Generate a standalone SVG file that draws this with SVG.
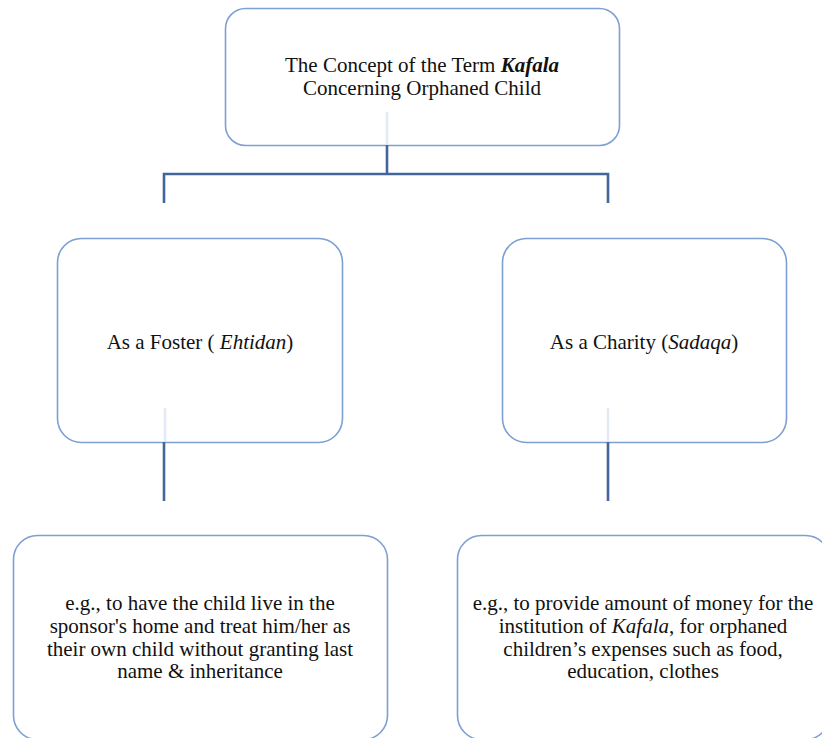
<svg xmlns="http://www.w3.org/2000/svg" width="822" height="738" viewBox="0 0 822 738">
<style>
.box{fill:#fff;stroke:#7e9fd3;stroke-width:1.6}
.faint{stroke:#e3eaf4;stroke-width:2.5;fill:none}
.conn{stroke:#42659a;stroke-width:2.6;fill:none}
.t{font-family:'Liberation Serif','DejaVu Serif',serif;font-size:21px;fill:#111;text-anchor:middle}
</style>
<rect width="822" height="738" fill="#fff"/>
<g id="node-root">
<rect class="box" x="225.5" y="8.5" width="394" height="137" rx="20"/>
<line class="faint" x1="387" y1="112" x2="387" y2="145"/>
<text class="t" x="422" y="72">The Concept of the Term <tspan font-weight="bold" font-style="italic">Kafala</tspan></text>
<text class="t" x="422" y="95">Concerning Orphaned Child</text>
</g>
<g id="node-foster">
<rect class="box" x="57.5" y="238.5" width="285" height="204" rx="24"/>
<line class="faint" x1="165" y1="408" x2="165" y2="442"/>
<text class="t" x="200" y="349">As a Foster ( <tspan font-style="italic">Ehtidan</tspan>)</text>
</g>
<g id="node-charity">
<rect class="box" x="502.5" y="238.5" width="284" height="204" rx="24"/>
<line class="faint" x1="608" y1="408" x2="608" y2="442"/>
<text class="t" x="644" y="349">As a Charity (<tspan font-style="italic">Sadaqa</tspan>)</text>
</g>
<g id="node-foster-example">
<rect class="box" x="13.5" y="535.5" width="374" height="204" rx="24"/>
<text class="t" x="200" y="610">e.g., to have the child live in the</text>
<text class="t" x="200" y="633">sponsor's home and treat him/her as</text>
<text class="t" x="200" y="656">their own child without granting last</text>
<text class="t" x="200" y="678">name &amp; inheritance</text>
</g>
<g id="node-charity-example">
<rect class="box" x="457.5" y="535.5" width="372" height="204" rx="24"/>
<text class="t" x="643" y="610">e.g., to provide amount of money for the</text>
<text class="t" x="643" y="633">institution of <tspan font-style="italic">Kafala</tspan>, for orphaned</text>
<text class="t" x="643" y="656">children’s expenses such as food,</text>
<text class="t" x="643" y="678">education, clothes</text>
</g>
<g id="connectors">
<path class="conn" d="M387 145 V174 M164 203 V174 H608 V203"/>
<line class="conn" x1="164" y1="442" x2="164" y2="501"/>
<line class="conn" x1="608" y1="442" x2="608" y2="501"/>
</g>
</svg>
